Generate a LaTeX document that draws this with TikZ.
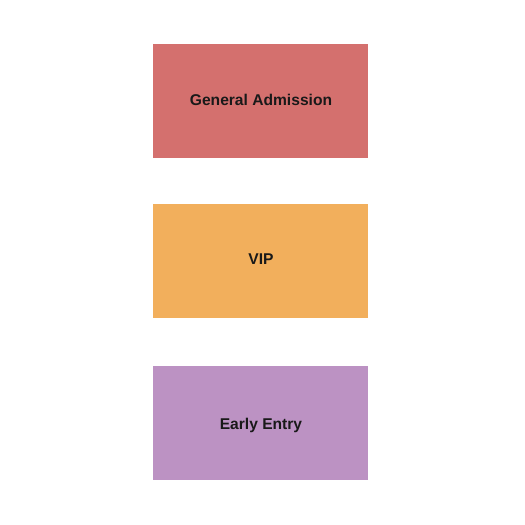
\documentclass[tikz,border=0pt]{standalone}
\usepackage{fontspec}
\setmainfont{Liberation Sans}
\definecolor{gacol}{HTML}{D4706E}
\definecolor{vipcol}{HTML}{F2AF5C}
\definecolor{eecol}{HTML}{BC92C3}
\begin{document}
\begin{tikzpicture}[x=1pt,y=-1pt,
  sect/.style={draw=none,minimum width=215pt,minimum height=113.5pt,inner sep=0pt},
  lbl/.style={font=\bfseries\fontsize{15.6}{18}\selectfont,text=black!90,inner sep=0pt}]
\useasboundingbox (0,0) rectangle (525,525);
\node[sect,fill=gacol] (ga) at (260.5,100.8) {};
\node[sect,fill=vipcol] (vip) at (260.5,260.8) {};
\node[sect,fill=eecol] (ee) at (260.5,422.8) {};
\node[lbl] (galbl) at (261,100) {General Admission};
\node[lbl] (viplbl) at (261,259.5) {VIP};
\node[lbl] (eelbl) at (261,425) {Early Entry};
\end{tikzpicture}
\end{document}
